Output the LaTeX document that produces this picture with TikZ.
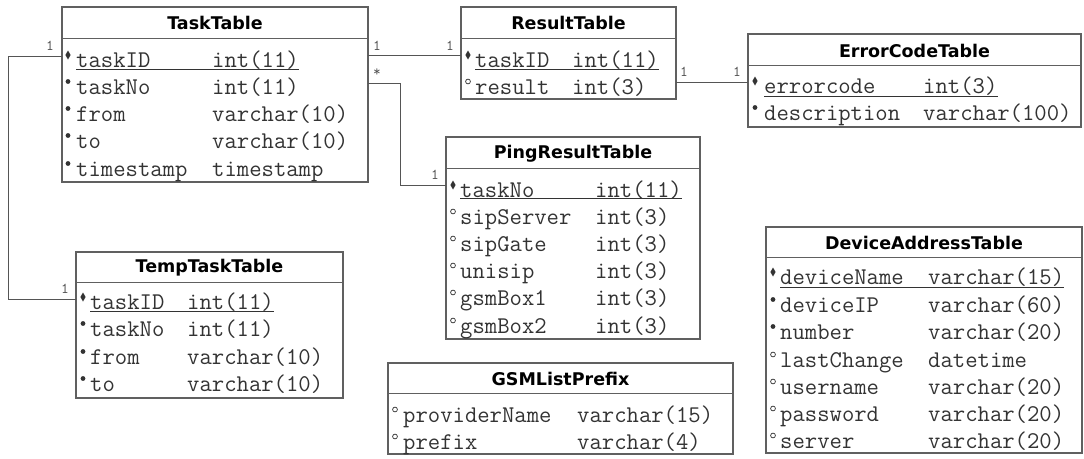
\documentclass[tikz,border=0pt]{standalone}
\usepackage{fontspec}
\newfontfamily\titlef{DejaVu Sans}
\definecolor{bordc}{HTML}{606060}
\definecolor{txtc}{HTML}{333333}
\definecolor{linec}{HTML}{555555}
\definecolor{multc}{HTML}{505050}
\newcommand\frow[6]{%
  \node[fld] (#1n) at (#3,#2) {#4};
  \node[fld] (#1t) at (#5,#2) {#6};}
\newcommand\pkm[2]{\fill[txtc] (#1,#2) ++(0,-10.5) -- ++(2.6,4.5) -- ++(-2.6,4.5) -- ++(-2.6,-4.5) -- cycle;}
\newcommand\nnm[2]{\fill[txtc] (#1,#2) ++(0,-6.5) circle (2.4pt);}
\newcommand\nlm[2]{\draw[txtc, line width=0.7pt] (#1,#2) ++(0,-6.5) circle (2.4pt);}
\begin{document}
\begin{tikzpicture}[x=1pt,y=-1pt,
  tbl/.style={draw=bordc, line width=1.1pt, anchor=north west, inner sep=0pt, outer sep=0pt},
  sepl/.style={draw=bordc, line width=1pt},
  ttl/.style={font=\titlef\bfseries\fontsize{17.5}{20}\selectfont, text=black, inner sep=0pt},
  fld/.style={font=\ttfamily\fontsize{24}{26}\selectfont, text=txtc, anchor=base west, inner sep=0pt, yshift=-6pt},
  ul/.style={draw=txtc, line width=1pt},
  conn/.style={draw=linec, line width=1pt},
  mult/.style={font=\ttfamily\fontsize{15}{16}\selectfont, text=multc, inner sep=0pt}]
\useasboundingbox (0,0) rectangle (1084,458);

% ---------- TaskTable
\node[tbl, minimum width=306pt, minimum height=175pt] (task) at (62,7) {};
\draw[sepl] (task.west |- 0,38) -- (task.east |- 0,38);
\node[ttl] (taskT) at (task.north |- 0,23) {TaskTable};
\frow{ta}{61}{76}{taskID}{212}{int(11)}
\frow{tb}{88}{76}{taskNo}{212}{int(11)}
\frow{tc}{115}{76}{from}{212}{varchar(10)}
\frow{td}{142}{76}{to}{212}{varchar(10)}
\frow{te}{170}{76}{timestamp}{212}{timestamp}
\draw[ul] (tan.west |- 0,69) -- (tat.east |- 0,69);
\pkm{68}{61}\nnm{68}{88}\nnm{68}{115}\nnm{68}{142}\nnm{68}{170}

% ---------- ResultTable
\node[tbl, minimum width=215pt, minimum height=92pt] (result) at (461,7) {};
\draw[sepl] (result.west |- 0,38) -- (result.east |- 0,38);
\node[ttl] (resultT) at (result.north |- 0,23) {ResultTable};
\frow{ra}{61}{475}{taskID}{572}{int(11)}
\frow{rb}{88}{475}{result}{572}{int(3)}
\draw[ul] (ran.west |- 0,69) -- (rat.east |- 0,69);
\pkm{468}{61}\nlm{468}{88}

% ---------- ErrorCodeTable
\node[tbl, minimum width=333pt, minimum height=93pt] (errc) at (748,34) {};
\draw[sepl] (errc.west |- 0,65) -- (errc.east |- 0,65);
\node[ttl] (errcT) at (errc.north |- 0,51) {ErrorCodeTable};
\frow{ea}{87}{764}{errorcode}{923}{int(3)}
\frow{eb}{114}{764}{description}{923}{varchar(100)}
\draw[ul] (ean.west |- 0,96) -- (eat.east |- 0,96);
\pkm{755}{87}\nnm{755}{114}

% ---------- PingResultTable
\node[tbl, minimum width=254pt, minimum height=202pt] (ping) at (446,137) {};
\draw[sepl] (ping.west |- 0,168) -- (ping.east |- 0,168);
\node[ttl] (pingT) at (ping.north |- 0,154) {PingResultTable};
\frow{pa}{191}{460}{taskNo}{595}{int(11)}
\frow{pb}{218}{460}{sipServer}{595}{int(3)}
\frow{pc}{245}{460}{sipGate}{595}{int(3)}
\frow{pd}{272}{460}{unisip}{595}{int(3)}
\frow{pe}{299}{460}{gsmBox1}{595}{int(3)}
\frow{pf}{327}{460}{gsmBox2}{595}{int(3)}
\draw[ul] (pan.west |- 0,198) -- (pat.east |- 0,198);
\pkm{453}{191}\nlm{453}{218}\nlm{453}{245}\nlm{453}{272}\nlm{453}{299}\nlm{453}{327}

% ---------- TempTaskTable
\node[tbl, minimum width=267pt, minimum height=146pt] (temp) at (76,252) {};
\draw[sepl] (temp.west |- 0,282) -- (temp.east |- 0,282);
\node[ttl] (tempT) at (temp.north |- 0,268) {TempTaskTable};
\frow{ma}{303}{90}{taskID}{187}{int(11)}
\frow{mb}{330}{90}{taskNo}{187}{int(11)}
\frow{mc}{358}{90}{from}{187}{varchar(10)}
\frow{md}{385}{90}{to}{187}{varchar(10)}
\draw[ul] (man.west |- 0,311) -- (mat.east |- 0,311);
\pkm{83}{303}\nnm{83}{330}\nnm{83}{358}\nnm{83}{385}

% ---------- GSMListPrefix
\node[tbl, minimum width=345pt, minimum height=91pt] (gsm) at (388,363) {};
\draw[sepl] (gsm.west |- 0,393) -- (gsm.east |- 0,393);
\node[ttl] (gsmT) at (gsm.north |- 0,379) {GSMListPrefix};
\frow{ga}{416}{403}{providerName}{577}{varchar(15)}
\frow{gb}{443}{403}{prefix}{577}{varchar(4)}
\nlm{395}{416}\nlm{395}{443}

% ---------- DeviceAddressTable
\node[tbl, minimum width=316pt, minimum height=226pt] (dev) at (766,227) {};
\draw[sepl] (dev.west |- 0,257) -- (dev.east |- 0,257);
\node[ttl] (devT) at (dev.north |- 0,243) {DeviceAddressTable};
\frow{da}{278}{780}{deviceName}{928}{varchar(15)}
\frow{db}{306}{780}{deviceIP}{928}{varchar(60)}
\frow{dc}{333}{780}{number}{928}{varchar(20)}
\frow{dd}{361}{780}{lastChange}{928}{datetime}
\frow{de}{388}{780}{username}{928}{varchar(20)}
\frow{df}{415}{780}{password}{928}{varchar(20)}
\frow{dg}{442}{780}{server}{928}{varchar(20)}
\draw[ul] (dan.west |- 0,287) -- (dat.east |- 0,287);
\pkm{773}{278}\nnm{773}{306}\nnm{773}{333}\nlm{773}{361}\nlm{773}{388}\nlm{773}{415}\nlm{773}{442}

% ---------- connectors
\draw[conn] (task.east |- 0,55) -- (result.west |- 0,55);
\node[mult] (m1) at (377,46) {1};
\node[mult] (m2) at (450,46) {1};
\draw[conn] (task.east |- 0,83) -- ++(32,0) |- (ping.west |- 0,185);
\node[mult] (m3) at (377,73) {*};
\node[mult] (m4) at (435,175) {1};
\draw[conn] (result.east |- 0,82) -- (errc.west |- 0,82);
\node[mult] (m5) at (684,72) {1};
\node[mult] (m6) at (737,72) {1};
\draw[conn] (task.west |- 0,56) -- ++(-54,0) |- (temp.west |- 0,299);
\node[mult] (m7) at (50,46) {1};
\node[mult] (m8) at (65,289) {1};
\end{tikzpicture}
\end{document}
